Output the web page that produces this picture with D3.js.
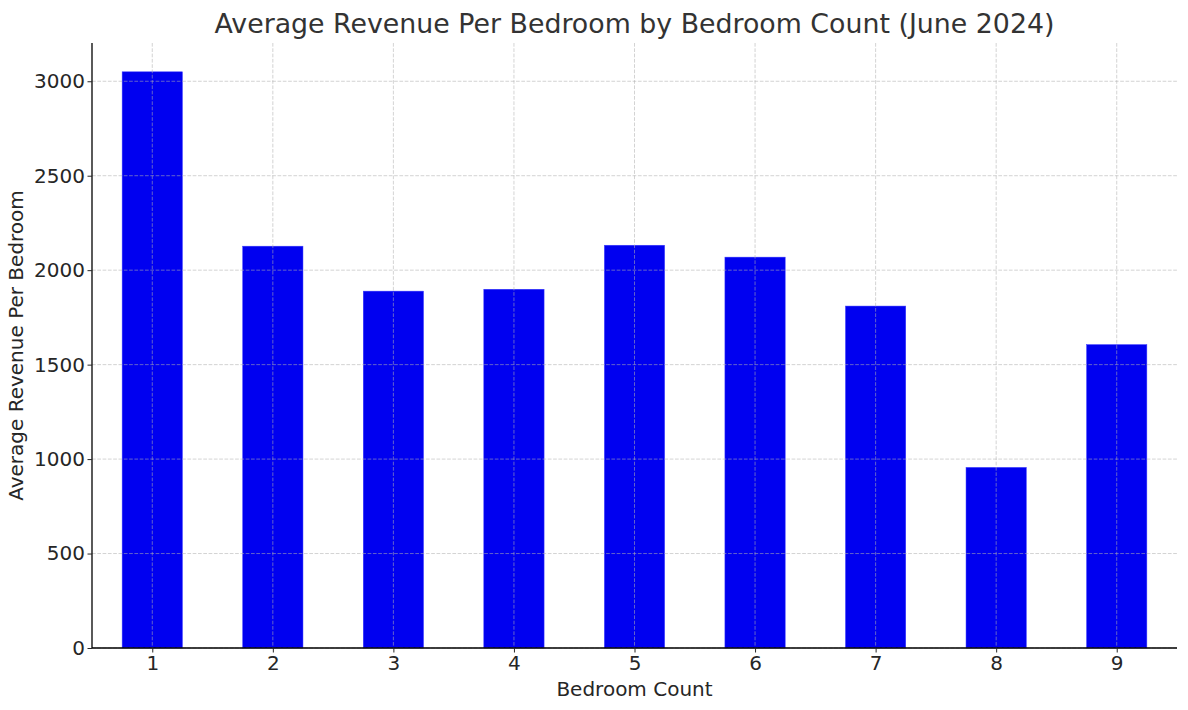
<!DOCTYPE html>
<html><head><meta charset="utf-8">
<script src="https://cdn.jsdelivr.net/npm/d3@7"></script>
<style>body{margin:0;background:#fff}svg{display:block;font-family:"DejaVu Sans",sans-serif}</style>
</head><body><svg id="c" width="1188" height="710"></svg>
<script>
const categories = [1,2,3,4,5,6,7,8,9];
const values = [3050,2127,1889,1899,2132,2069,1810,956,1606];
const yTicks = [0,500,1000,1500,2000,2500,3000];
const title = "Average Revenue Per Bedroom by Bedroom Count (June 2024)";
const xLabel = "Bedroom Count";
const yLabel = "Average Revenue Per Bedroom";

const svg = d3.select("#c");
const m = {l:92, r:1177, t:43, b:648};
const x = d3.scaleLinear().domain([0.5,9.5]).range([m.l,m.r]);
const y = d3.scaleLinear().domain([0,3202.5]).range([m.b,m.t]);
const bw = x(1.5)-x(1);

svg.selectAll("rect.bar").data(values).join("rect").attr("class","bar")
  .attr("x",(d,i)=>x(categories[i])-bw/2).attr("width",bw)
  .attr("y",d=>y(d)).attr("height",d=>y(0)-y(d))
  .attr("fill","#0000f0").attr("stroke","#3b3bff").attr("stroke-width",0.5);

const grid = svg.append("g").attr("stroke","#b0b0b0").attr("stroke-opacity",0.7).attr("stroke-dasharray","3.7,1.6").attr("stroke-width",0.8);
grid.selectAll("line.h").data(yTicks).join("line").attr("x1",m.l).attr("x2",m.r).attr("y1",d=>y(d)).attr("y2",d=>y(d));
grid.selectAll("line.v").data(categories).join("line").attr("y1",m.t).attr("y2",m.b).attr("x1",d=>x(d)).attr("x2",d=>x(d));

const xAxis = svg.append("g").attr("transform",`translate(0,${m.b})`)
  .call(d3.axisBottom(x).tickValues(categories).tickFormat(d3.format("d")).tickSize(4.5).tickPadding(3).tickSizeOuter(0));
const yAxis = svg.append("g").attr("transform",`translate(${m.l},0)`)
  .call(d3.axisLeft(y).tickValues(yTicks).tickFormat(d3.format("d")).tickSize(4.5).tickPadding(2.5).tickSizeOuter(0));
[xAxis,yAxis].forEach(a=>{
  a.attr("font-size",20).attr("font-family","DejaVu Sans");
  a.selectAll("text").attr("fill","#262626");
  a.selectAll(".tick line").attr("stroke","#262626").attr("stroke-width",1);
  a.select(".domain").attr("stroke","#000").attr("stroke-width",1.3);
});
xAxis.select(".domain").attr("d",`M${m.l},0H${m.r}`);
yAxis.select(".domain").attr("d",`M0,${m.b}V${m.t}`);

svg.append("text").attr("x",(m.l+m.r)/2).attr("y",33).attr("text-anchor","middle")
  .attr("font-size",26.8).attr("fill","#333").text(title);
svg.append("text").attr("x",(m.l+m.r)/2).attr("y",696).attr("text-anchor","middle")
  .attr("font-size",20).attr("fill","#262626").text(xLabel);
svg.append("text").attr("transform",`translate(23,${(m.t+m.b)/2}) rotate(-90)`).attr("text-anchor","middle")
  .attr("font-size",20).attr("fill","#262626").text(yLabel);
</script></body></html>
